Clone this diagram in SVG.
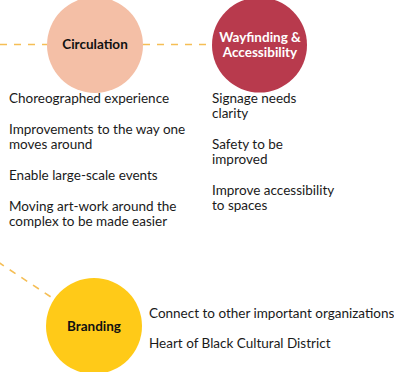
<svg xmlns="http://www.w3.org/2000/svg" width="394" height="372" viewBox="0 0 394 372">
<style>
.lbl{font-family:"Lato","Noto Sans",sans-serif;font-weight:700;font-size:13.5px;text-anchor:middle}
.txt{font-family:"Lato","Noto Sans",sans-serif;font-size:13.5px;fill:#1a1a1a}
.dash{stroke:#F5BE55;stroke-width:1.6;stroke-dasharray:7 7;fill:none}
</style>
<rect width="394" height="372" fill="#fff"/>
<g id="connectors">
<line class="dash" x1="0" y1="44.5" x2="47" y2="44.5"/>
<line class="dash" x1="143" y1="44.5" x2="212" y2="44.5"/>
<line class="dash" x1="-2" y1="262" x2="54" y2="299"/>
</g>
<g id="circulation">
<circle cx="95" cy="45" r="48" fill="#F4BFA6"/>
<text class="lbl" x="95" y="49" fill="#111">Circulation</text>
<text class="txt" x="9" y="103">Choreographed experience</text>
<text class="txt" x="9" y="134">Improvements to the way one</text>
<text class="txt" x="9" y="149">moves around</text>
<text class="txt" x="9" y="180">Enable large-scale events</text>
<text class="txt" x="9" y="211">Moving art-work around the</text>
<text class="txt" x="9" y="226">complex to be made easier</text>
</g>
<g id="wayfinding">
<circle cx="259.5" cy="45" r="47.5" fill="#B83A4D"/>
<text class="lbl" x="260" y="41.5" fill="#fff">Wayfinding &amp;</text>
<text class="lbl" x="260" y="57" fill="#fff">Accessibility</text>
<text class="txt" x="212" y="103">Signage needs</text>
<text class="txt" x="212" y="118">clarity</text>
<text class="txt" x="212" y="149">Safety to be</text>
<text class="txt" x="212" y="164">improved</text>
<text class="txt" x="212" y="195">Improve accessibility</text>
<text class="txt" x="212" y="210">to spaces</text>
</g>
<g id="branding">
<circle cx="94" cy="326" r="48" fill="#FFCA18"/>
<text class="lbl" x="94" y="330.5" fill="#111">Branding</text>
<text class="txt" x="149" y="318">Connect to other important organizations</text>
<text class="txt" x="149" y="348">Heart of Black Cultural District</text>
</g>
</svg>
